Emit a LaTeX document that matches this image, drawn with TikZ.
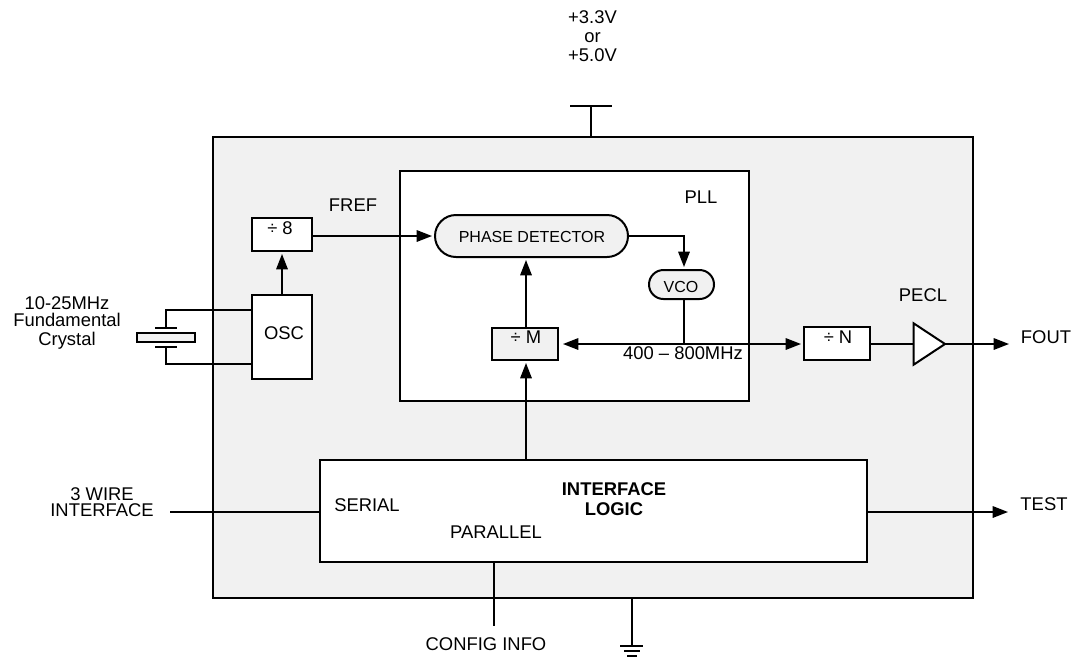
\documentclass[tikz,border=0pt]{standalone}
\usepackage{fontspec}
\setmainfont{Liberation Sans}
\usetikzlibrary{arrows.meta,shapes.geometric,shapes.misc,positioning}
\definecolor{panel}{HTML}{F1F1F1}
\tikzset{
  x=0.75pt,y=-0.75pt,
  box/.style={draw=black,line width=1.5pt,fill=#1,rectangle,inner sep=0pt,outer sep=0pt,anchor=north west},
  box/.default=white,
  pill/.style={draw=black,line width=1.5pt,fill=panel,rounded rectangle,inner sep=0pt,outer sep=0pt},
  wire/.style={draw=black,line width=1.5pt},
  arr/.style={wire,-{Triangle[length=11.5pt,width=8.5pt]},shorten >=2.2pt},
  txt/.style={font=\fontsize{13.8}{14.25}\selectfont,inner sep=0pt,align=center},
  small/.style={font=\fontsize{12}{13}\selectfont,inner sep=0pt}
}
\begin{document}
\begin{tikzpicture}
\useasboundingbox (0,0) rectangle (1075,658);
% panels
\node[box=panel,minimum width=570pt,minimum height=345.75pt] (chip) at (213,137) {};
\node[box,minimum width=261.75pt,minimum height=172.5pt] (pll) at (400,171) {};
\node[box,minimum width=410.25pt,minimum height=76.5pt] (logic) at (320,460) {};
% blocks
\node[box,minimum width=45pt,minimum height=24.75pt] (div8) at (252,218) {};
\node[box,minimum width=45pt,minimum height=63pt] (osc) at (252,295) {};
\node[box=panel,minimum width=49.5pt,minimum height=24pt] (divm) at (492,328) {};
\node[box,minimum width=49.5pt,minimum height=24.75pt] (divn) at (804,327) {};
\node[pill,minimum width=144.75pt,minimum height=31.5pt] (pd) at (531.5,236) {};
\node[pill,minimum width=48.75pt,minimum height=21.75pt] (vco) at (681.5,284.5) {};
\node[draw=black,line width=1.5pt,fill=white,isosceles triangle,isosceles triangle apex angle=70,isosceles triangle stretches,minimum width=31pt,minimum height=23.5pt,inner sep=0pt,outer sep=0pt,anchor=apex] (amp) at (945,344) {};
\node[draw=black,line width=1.5pt,fill=panel,rectangle,inner sep=0pt,outer sep=0pt,minimum width=43.5pt,minimum height=6.75pt] (xtal) at (166,337.5) {};
% free ends
\coordinate (supply) at (591,106);
\coordinate (supplyL) at (570,106);
\coordinate (supplyR) at (612,106);
\coordinate (gnd) at (632,646);
\coordinate (cfg) at (494,626);
\coordinate (ser) at (170,512);
\coordinate (test) at (1011,512);
\coordinate (fout) at (1012,344);
\coordinate (plateT) at (166,328);
\coordinate (plateB) at (166,347);
\coordinate (tap) at (684,344);
% connectors
\draw[wire] (supplyL) -- (supplyR);
\draw[wire] (supply) -- (supply |- chip.north);
\draw[arr] (282,295) -- (282,251);
\draw[arr] (div8.east |- 0,236) -- (pd.west);
\draw[arr] (pd.east) -- (684,236) -- (684,270);
\draw[wire] (684,299) -- (tap);
\draw[arr] (526,328) -- (526,257);
\draw[arr] (526,460) -- (526,360);
\draw[arr,shorten >=3.7pt] (tap) -- (divm.east |- tap);
\draw[arr] (tap) -- (divn.west |- tap);
\draw[wire] (divn.east |- tap) -- (amp.west |- tap);
\draw[arr] (amp.apex) -- (fout);
\draw[wire] (ser) -- (logic.west |- ser);
\draw[arr] (logic.east |- test) -- (test);
\draw[wire] (logic.south -| cfg) -- (cfg);
\draw[wire,line width=1.8pt] (chip.south -| gnd) -- (gnd);
\draw[wire] (155,328) -- (177,328);
\draw[wire] (155,347) -- (177,347);
\draw[wire] (plateT) -- (166,310) -- (osc.west |- 0,310);
\draw[wire] (plateB) -- (166,364) -- (osc.west |- 0,364);
\draw[wire,line width=1.8pt] (620,646) -- (643,646);
\draw[wire,line width=1.8pt] (624,651) -- (640,651);
\draw[wire,line width=1.8pt] (627,656) -- (637,656);
% labels
\node[txt] (vlab) at (592.5,36) {+3.3V\\or\\+5.0V};
\node[txt] (freflab) at (353,205) {FREF};
\node[txt] (plllab) at (701,197) {PLL};
\node[txt] (peclab) at (923,295) {PECL};
\node[txt,font=\fontsize{13.8}{12.75}\selectfont] (xlab) at (67,322.5) {10-25MHz\\Fundamental\\[1.5pt]Crystal};
\node[txt] (osclab) at (284,333) {OSC};
\node[txt] (d8lab) at (280,228) {÷ 8};
\node[txt] (dmlab) at (526,337) {÷ M};
\node[txt] (dnlab) at (838,337) {÷ N};
\node[small] (pdlab) at (532,237) {PHASE DETECTOR};
\node[small] (vcolab) at (681,287) {VCO};
\node[txt] (mhzlab) at (683,353) {400 – 800MHz};
\node[txt] (foutlab) at (1046,337) {FOUT};
\node[txt] (testlab) at (1044,504) {TEST};
\node[txt,font=\fontsize{13.8}{12}\selectfont] (wirelab) at (102,502) {3 WIRE\\INTERFACE};
\node[txt] (serlab) at (367,505) {SERIAL};
\node[txt] (parlab) at (496,532) {PARALLEL};
\node[txt,font=\fontsize{13.8}{15}\selectfont\bfseries] (loglab) at (614,499) {INTERFACE\\LOGIC};
\node[txt] (cfglab) at (486,644) {CONFIG INFO};
\end{tikzpicture}
\end{document}
